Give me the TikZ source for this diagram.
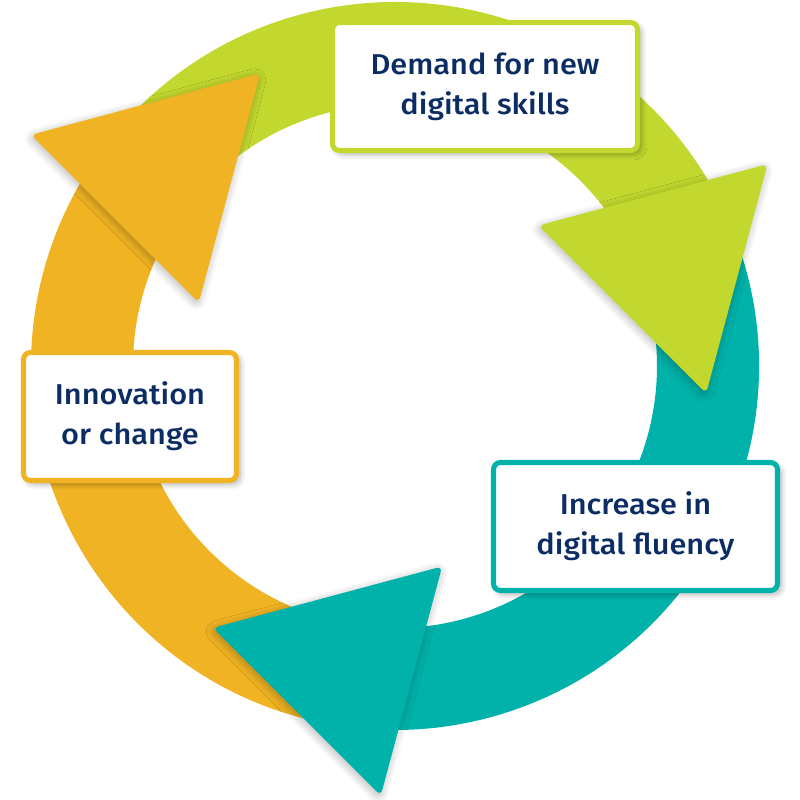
\documentclass[tikz,border=0pt]{standalone}
\usepackage{fontspec}
\newfontfamily\boxfont{Fira Sans Medium}[FakeStretch=1.07]
\usepackage{tikz}
\usetikzlibrary{
  positioning,
  shadows.blur
}
\definecolor{cyclegreen}{HTML}{C2D82F}
\definecolor{cycleteal}{HTML}{00B2A9}
\definecolor{cycleorange}{HTML}{F0B323}
\definecolor{textnavy}{HTML}{0B2D64}

\begin{document}
\begin{tikzpicture}[x=0.03cm,y=0.03cm,
  band/.style={fill=#1},
  head/.style={fill=#1,rounded corners=5pt,
    blur shadow={shadow xshift=-1pt,shadow yshift=-2pt,shadow blur radius=7pt,shadow blur steps=14,shadow opacity=28}},
  stagebox/.style={draw=#1,line width=4.3pt,fill=white,rounded corners=6pt,
    align=center,inner sep=0pt,minimum height=3.84cm,text=textnavy,
    font=\boxfont\fontsize{24.5}{34}\selectfont,
    blur shadow={shadow xshift=3pt,shadow yshift=-3pt,shadow blur radius=5pt,shadow blur steps=12,shadow opacity=30}}]
            \useasboundingbox (0,0) rectangle (800,800);
            % ring segments, clockwise
            \foreach \col/\a/\b in {cycleorange/260/140,cyclegreen/140/20,cycleteal/20/-100}
              \fill[band=\col,shift={(395,434)}] (\a:364) arc[start angle=\a,end angle=\b,radius=364]
                -- (\b:262) arc[start angle=\b,end angle=\a,radius=262] -- cycle;
            % arrow heads
            \foreach \col/\hx/\hy in {cycleorange/163.3/629.7,cyclegreen/670.7/539,cycleteal/345.3/136.7}
              \fill[head=\col,shift={(\hx,\hy)}] (45:137) -- (165:137) -- (285:137) -- cycle;
            % stage boxes
            \node[stagebox=cyclegreen,minimum width=9.15cm] (demand) at (485,713.5) {Demand for new\\digital skills};
            \node[stagebox=cycleorange,minimum width=6.39cm] (innov) at (130,383.5) {Innovation\\or change};
            \node[stagebox=cycleteal,minimum width=8.52cm] (fluency) at (635.5,273.5) {Increase in\\digital fluency};
        \end{tikzpicture}
\end{document}
